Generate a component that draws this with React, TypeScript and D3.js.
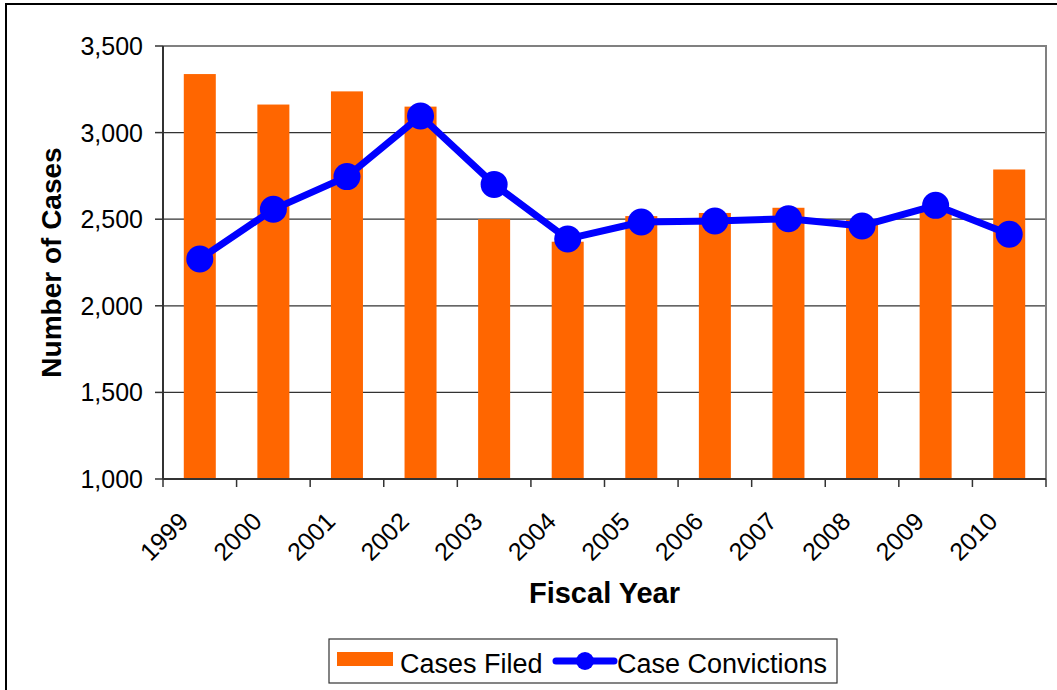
import React from "react";
import * as d3 from "d3";

const years = ["1999","2000","2001","2002","2003","2004","2005","2006","2007","2008","2009","2010"];
const casesFiled = [3338, 3162, 3238, 3150, 2500, 2370, 2518, 2536, 2566, 2495, 2550, 2787];
const caseConvictions = [2270, 2557, 2746, 3096, 2701, 2386, 2484, 2490, 2503, 2461, 2580, 2413];
const yTicks = [1000, 1500, 2000, 2500, 3000, 3500];

const W = 1057, H = 690;
const plot = { left: 163, right: 1046, top: 46, bottom: 479 };
const FONT = "Arial, 'Liberation Sans', sans-serif";

export default function App() {
  const x = d3.scaleBand<string>().domain(years).range([plot.left, plot.right]).paddingInner(0).paddingOuter(0);
  const y = d3.scaleLinear().domain([1000, 3500]).range([plot.bottom, plot.top]);
  const bw = x.bandwidth() * 0.435;
  const fmt = d3.format(",");
  const line = d3.line<number>()
    .x((_, i) => (x(years[i]) as number) + x.bandwidth() / 2)
    .y((d) => y(d));
  const edges = [...years.map((yr) => x(yr) as number), plot.right];

  return (
    <svg width={W} height={H} style={{ position: "absolute", left: 0, top: 0, background: "#fff" }}>
      <path d={`M6,${H} L6,4 L${W},4`} fill="none" stroke="#000" strokeWidth={2} />
      {/* gridlines */}
      {yTicks.slice(1, -1).map((t) => (
        <line key={t} x1={plot.left} x2={plot.right} y1={y(t)} y2={y(t)} stroke="#333" strokeWidth={1.2} />
      ))}
      {/* plot border top & right */}
      <path d={`M${plot.left},${plot.top} L${plot.right},${plot.top} L${plot.right},${plot.bottom}`} fill="none" stroke="#808080" strokeWidth={2} />
      {/* bars */}
      {casesFiled.map((v, i) => {
        const cx = (x(years[i]) as number) + x.bandwidth() / 2;
        return <rect key={i} x={cx - bw / 2} y={y(v)} width={bw} height={plot.bottom - y(v)} fill="#FF6600" />;
      })}
      {/* axes */}
      <line x1={plot.left} x2={plot.right} y1={plot.bottom} y2={plot.bottom} stroke="#333" strokeWidth={2} />
      <line x1={plot.left} x2={plot.left} y1={plot.top} y2={plot.bottom} stroke="#333" strokeWidth={2} />
      {yTicks.map((t) => (
        <g key={t}>
          <line x1={plot.left - 8} x2={plot.left} y1={y(t)} y2={y(t)} stroke="#333" strokeWidth={1.5} />
          <text x={143} y={y(t)} dy="0.36em" textAnchor="end" fontFamily={FONT} fontSize={25} fill="#000">{fmt(t)}</text>
        </g>
      ))}
      {edges.map((e, i) => (
        <line key={i} x1={e} x2={e} y1={plot.bottom} y2={plot.bottom + 8} stroke="#333" strokeWidth={1.5} />
      ))}
      {years.map((yr) => {
        const cx = (x(yr) as number) + x.bandwidth() / 2;
        return (
          <text key={yr} transform={`translate(${cx - 10},${523}) rotate(-45)`} textAnchor="end"
            fontFamily={FONT} fontSize={25} fill="#000">{yr}</text>
        );
      })}
      {/* line */}
      <path d={line(caseConvictions) || ""} fill="none" stroke="#0000FF" strokeWidth={7} strokeLinejoin="round" />
      {caseConvictions.map((v, i) => (
        <circle key={i} cx={(x(years[i]) as number) + x.bandwidth() / 2} cy={y(v)} r={13.5} fill="#0000FF" />
      ))}
      {/* titles */}
      <text transform={`translate(61,${(plot.top + plot.bottom) / 2}) rotate(-90)`} textAnchor="middle"
        fontFamily={FONT} fontSize={28} fontWeight="bold" fill="#000">Number of Cases</text>
      <text x={(plot.left + plot.right) / 2} y={603} textAnchor="middle" fontFamily={FONT} fontSize={29} fontWeight="bold" fill="#000">Fiscal Year</text>
      {/* legend */}
      <rect x={329} y={639} width={508} height={44} fill="#fff" stroke="#333" strokeWidth={1.2} />
      <rect x={337} y={652} width={56} height={14} fill="#FF6600" />
      <text x={400} y={673} fontFamily={FONT} fontSize={27} fill="#000">Cases Filed</text>
      <line x1={556} x2={614} y1={661} y2={661} stroke="#0000FF" strokeWidth={7} strokeLinecap="round" />
      <circle cx={585} cy={661} r={9} fill="#0000FF" />
      <text x={617} y={673} fontFamily={FONT} fontSize={27} fill="#000">Case Convictions</text>
    </svg>
  );
}
